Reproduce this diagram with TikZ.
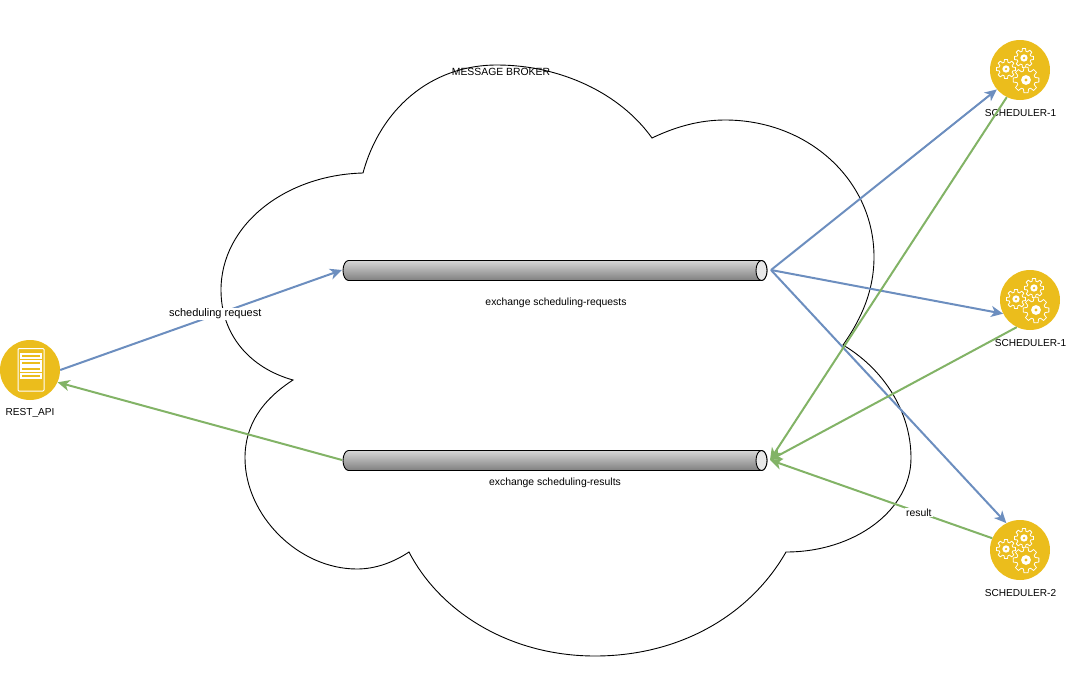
\documentclass[tikz,border=0pt]{standalone}
\usepackage{fontspec}
\setmainfont{Liberation Sans}
\usetikzlibrary{arrows.meta}
\definecolor{iconyellow}{HTML}{EBBD1C}
\definecolor{reqblue}{HTML}{6C8EBF}
\definecolor{resgreen}{HTML}{82B366}
\newcommand{\gearshape}[3]{%
  \draw[gearline] ([shift={(#1,#2)}]-16:#3*0.72)
    \foreach \a in {0,45,...,315} {
      -- ([shift={(#1,#2)}]\a-16:#3*0.72)
      -- ([shift={(#1,#2)}]\a-9:#3)
      -- ([shift={(#1,#2)}]\a+9:#3)
      -- ([shift={(#1,#2)}]\a+16:#3*0.72)
    } -- cycle;
  \fill[white] (#1,#2) circle (#3*0.38);
  \fill[iconyellow] (#1,#2) circle (#3*0.13);
}
\tikzset{
  icon/.style={circle,fill=iconyellow,minimum size=60pt,inner sep=0pt},
  gearline/.style={draw=white,fill=iconyellow,line width=0.8pt,line join=round},
  pipebody/.style={draw=black,line width=0.9pt,top color=white!84!black,bottom color=black!50!white},
  pipeend/.style={draw=black,line width=0.9pt,fill=black!9},
  txt/.style={font=\fontsize{10.4}{12}\selectfont,inner sep=0pt},
  icontxt/.style={font=\fontsize{10.1}{12}\selectfont,inner sep=0pt},
  edgetxt/.style={fill=white,inner sep=1pt},
  reqline/.style={draw=reqblue,line width=2pt,-{Stealth[length=12pt,width=11pt,inset=3.5pt]}},
  resline/.style={draw=resgreen,line width=2pt,-{Stealth[length=12pt,width=11pt,inset=3.5pt]}},
  gears/.pic={
    \gearshape{-14}{-1}{9.7}
    \gearshape{4}{-12}{9.7}
    \gearshape{6}{10}{13}
  },
  server/.pic={
    \draw[white,line width=1pt,rounded corners=1pt] (-12,-21.5) rectangle (14,21);
    \foreach \y in {-16,-9,-3,4}
      \draw[white,line width=1.2pt] (-9,\y) rectangle (11,\y+4);
  },
  pipe/.pic={
    \path[pipebody] (-206.5,-10) .. controls (-209.5,-10) and (-212,-5.5) .. (-212,0)
      .. controls (-212,5.5) and (-209.5,10) .. (-206.5,10) -- (206.5,10)
      .. controls (209.5,10) and (212,5.5) .. (212,0)
      .. controls (212,-5.5) and (209.5,-10) .. (206.5,-10) -- cycle;
    \draw[pipeend] (206.5,0) ellipse [x radius=5.5,y radius=10];
  },
}
\begin{document}
\begin{tikzpicture}[x=1pt,y=-1pt]
  \useasboundingbox (0,0) rectangle (1066,691);

  % broker cloud
  \draw[line width=0.9pt] (363,173) .. controls (285,175) and (221,225) .. (221,290)
    .. controls (221,335) and (250,368) .. (293,380)
    .. controls (262,400) and (245,425) .. (245,458)
    .. controls (245,515) and (298,569) .. (357,569)
    .. controls (376,569) and (394,562) .. (409,552)
    .. controls (440,612) and (510,656) .. (595,656)
    .. controls (680,656) and (750,615) .. (786,552)
    .. controls (855,552) and (911,510) .. (911,458)
    .. controls (911,410) and (882,368) .. (843,345)
    .. controls (862,318) and (874,290) .. (874,257)
    .. controls (874,180) and (808,120) .. (725,120)
    .. controls (699,120) and (675,127) .. (652,138)
    .. controls (620,93) and (560,65) .. (497,65)
    .. controls (430,65) and (380,110) .. (363,173) -- cycle;
  \node[txt] (brokerlabel) at (501,72) {MESSAGE BROKER};

  % exchanges
  \pic at (555,270.5) {pipe};
  \pic at (555,460.5) {pipe};
  \node[txt] (reqlabel) at (556,303) {exchange scheduling-requests};
  \node[txt] (reslabel) at (555,483) {exchange scheduling-results};
  \coordinate (reqin) at (342,270);
  \coordinate (reqout) at (771,270);
  \coordinate (resin) at (342,460);
  \coordinate (resout) at (770,460);

  % services
  \node[icon] (restapi) at (30,370) {};
  \node[icon] (sched1) at (1020,70) {};
  \node[icon] (sched2) at (1030,300) {};
  \node[icon] (sched3) at (1020,550) {};
  \pic at (restapi) {server};
  \pic at (sched1) {gears};
  \pic at (sched2) {gears};
  \pic at (sched3) {gears};
  \node[icontxt] (restlabel) at (30,413) {REST\_API};
  \node[icontxt] (sched1label) at (1020.5,113) {SCHEDULER-1};
  \node[icontxt] (sched2label) at (1030.5,343) {SCHEDULER-1};
  \node[icontxt] (sched3label) at (1020.5,593) {SCHEDULER-2};

  % requests
  \draw[reqline] (restapi.east) -- (reqin)
    node[edgetxt,pos=0.55,yshift=1pt,font=\fontsize{11}{13}\selectfont] (reqedge) {scheduling request};
  \draw[reqline] (reqout) -- (sched1.220);
  \draw[reqline] (reqout) -- (sched2.207);
  \draw[reqline] (reqout) -- (sched3.117);

  % results
  \draw[resline] (resin) -- (restapi.336);
  \draw[resline] (sched1.244) -- (resout);
  \draw[resline] (sched2.244) -- (resout);
  \draw[resline] (sched3.157) -- (resout)
    node[edgetxt,pos=0.33,font=\fontsize{10.4}{12}\selectfont] (resedge) {result};
\end{tikzpicture}
\end{document}
